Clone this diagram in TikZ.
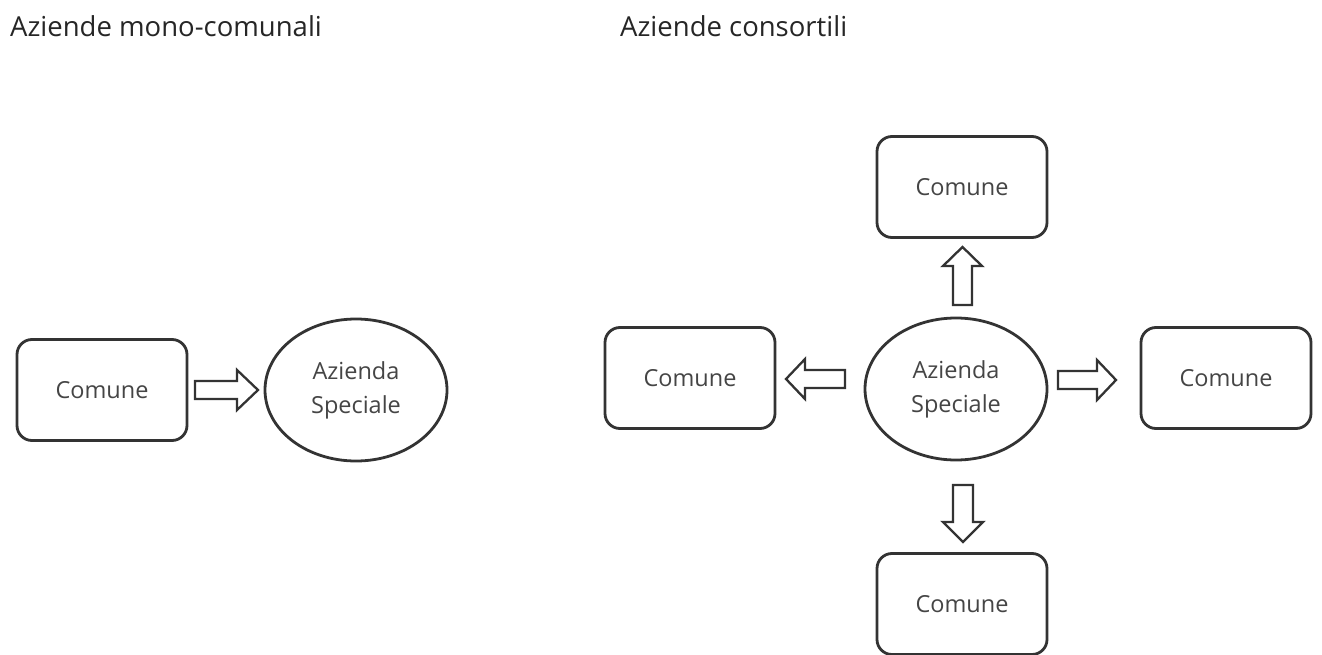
\documentclass[tikz,border=0pt]{standalone}
\usepackage{fontspec}
\setmainfont{Open Sans}
\usetikzlibrary{shapes.geometric}
\definecolor{edge}{HTML}{333333}
\definecolor{txt}{HTML}{454545}
\begin{document}
\begin{tikzpicture}[x=1pt,y=-1pt,
  box/.style={draw=edge,line width=2.8pt,rounded corners=15pt,minimum width=170pt,minimum height=101pt,inner sep=0pt,font=\fontsize{23.5}{28}\selectfont,text=txt},
  oval/.style={draw=edge,line width=2.8pt,ellipse,minimum width=182pt,minimum height=142pt,inner sep=0pt,align=center,font=\fontsize{23.5}{34}\selectfont,text=txt},
  blk/.style={draw=edge,line width=2.3pt,line join=miter,fill=white},
  title/.style={anchor=base west,inner sep=0pt,font=\fontsize{27.5}{32}\selectfont,text=black!85}]
\useasboundingbox (0,0) rectangle (1322,655);
\node[title] (t1) at (10,37) {Aziende mono-comunali};
\node[title] (t2) at (620,37) {Aziende consortili};
% left diagram
\node[box] (c0) at (102,390) {Comune};
\node[oval] (a0) at (356,390) {Azienda\\Speciale};
\draw[blk] (195,381) -- (237,381) -- (237,370) -- (258,390) -- (237,410) -- (237,399) -- (195,399) -- cycle;
% right diagram
\node[oval] (a1) at (956,389) {Azienda\\Speciale};
\node[box] (cT) at (962,187) {Comune};
\node[box] (cL) at (690,378) {Comune};
\node[box] (cR) at (1226,378) {Comune};
\node[box] (cB) at (962,604) {Comune};
% up
\draw[blk] (953,305) -- (953,266) -- (943,266) -- (962.5,247) -- (982,266) -- (972,266) -- (972,305) -- cycle;
% left
\draw[blk] (845,370) -- (805,370) -- (805,359) -- (786,379) -- (805,399) -- (805,388) -- (845,388) -- cycle;
% right
\draw[blk] (1058,371) -- (1097,371) -- (1097,360) -- (1116,380) -- (1097,400) -- (1097,389) -- (1058,389) -- cycle;
% down
\draw[blk] (953,485) -- (953,522) -- (943,522) -- (963,542) -- (983,522) -- (973,522) -- (973,485) -- cycle;
\end{tikzpicture}
\end{document}
